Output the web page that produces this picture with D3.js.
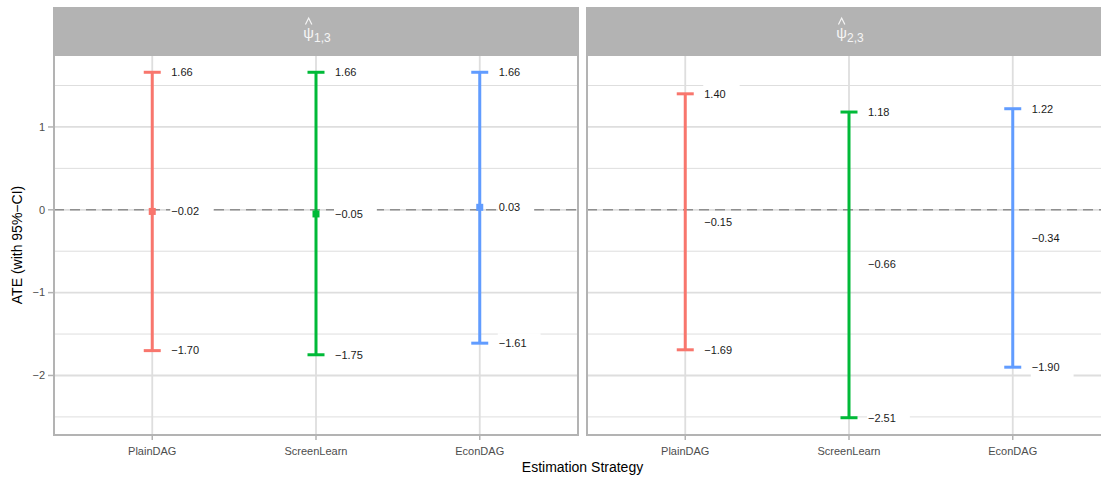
<!DOCTYPE html>
<html>
<head>
<meta charset="utf-8">
<script src="https://cdn.jsdelivr.net/npm/d3@7"></script>
<style>
  html, body { margin: 0; padding: 0; background: #fff; }
  svg { display: block; font-family: "Liberation Sans", Arial, sans-serif; }
</style>
</head>
<body>
<svg id="chart" width="1101" height="479"></svg>
<script>
// Estimation strategies (x categories) and facet panels
const strategies = ["PlainDAG", "ScreenLearn", "EconDAG"];
const panelSubscripts = ["1,3", "2,3"];
const strategyColors = ["#F8766D", "#00BA38", "#619CFF"];

// ATE point estimates and 95% confidence limits, panel psi-hat 1,3
const estimate13 = [-0.02, -0.05, 0.03];
const lower13 = [-1.70, -1.75, -1.61];
const upper13 = [1.66, 1.66, 1.66];

// ATE point estimates and 95% confidence limits, panel psi-hat 2,3
const estimate23 = [-0.15, -0.66, -0.34];
const lower23 = [-1.69, -2.51, -1.90];
const upper23 = [1.40, 1.18, 1.22];

// Axis ticks
const yMajorTicks = [-2, -1, 0, 1];
const yMinorTicks = [-2.5, -1.5, -0.5, 0.5, 1.5];

const panels = [
  { sub: panelSubscripts[0], est: estimate13, lo: lower13, hi: upper13, markers: true },
  { sub: panelSubscripts[1], est: estimate23, lo: lower23, hi: upper23, markers: false }
];

const svg = d3.select("#chart");
const W = 1101, H = 479;
const panelW = 524, gap = 9;
const panelX0 = [54, 54 + panelW + gap];
const stripTop = 7, panelTop = 55, panelBottom = 435;

// Shared y scale with 5% padding on the data range
const allVals = [...lower13, ...upper13, ...lower23, ...upper23];
const yMin = d3.min(allVals), yMax = d3.max(allVals);
const pad = (yMax - yMin) * 0.05;
const y = d3.scaleLinear().domain([yMin - pad, yMax + pad]).range([panelBottom, panelTop]);

const fmt = d3.format(".2f");
const gridCol = "#dedede";
const borderCol = "#b3b3b3";
const stripTextCol = "#f5f5f5";

svg.append("defs").append("clipPath").attr("id", "page")
  .append("rect").attr("x", 0).attr("y", 0).attr("width", W).attr("height", H);

panels.forEach((p, pi) => {
  const x0 = panelX0[pi];
  const x = d3.scalePoint().domain(strategies).range([x0, x0 + panelW]).padding(0.6);
  const g = svg.append("g").attr("clip-path", "url(#page)");

  // grid
  g.selectAll(".minor").data(yMinorTicks).join("line")
    .attr("x1", x0).attr("x2", x0 + panelW)
    .attr("y1", d => y(d)).attr("y2", d => y(d))
    .attr("stroke", gridCol).attr("stroke-width", 1);
  g.selectAll(".major").data(yMajorTicks).join("line")
    .attr("x1", x0).attr("x2", x0 + panelW)
    .attr("y1", d => y(d)).attr("y2", d => y(d))
    .attr("stroke", gridCol).attr("stroke-width", 1.8);
  g.selectAll(".vmajor").data(strategies).join("line")
    .attr("x1", d => x(d)).attr("x2", d => x(d))
    .attr("y1", panelTop).attr("y2", panelBottom)
    .attr("stroke", gridCol).attr("stroke-width", 1.8);

  // reference line at zero
  g.append("line")
    .attr("x1", x0).attr("x2", x0 + panelW)
    .attr("y1", y(0)).attr("y2", y(0))
    .attr("stroke", "#8f8f8f").attr("stroke-width", 1.6)
    .attr("stroke-dasharray", "10,6");

  const rows = strategies.map((s, i) => ({
    s, c: strategyColors[i], est: p.est[i], lo: p.lo[i], hi: p.hi[i]
  }));

  // error bars
  const capHalf = 8.5;
  rows.forEach(r => {
    const cx = x(r.s);
    g.append("line").attr("x1", cx).attr("x2", cx)
      .attr("y1", y(r.hi)).attr("y2", y(r.lo))
      .attr("stroke", r.c).attr("stroke-width", 3);
    [r.hi, r.lo].forEach(v => {
      g.append("line").attr("x1", cx - capHalf).attr("x2", cx + capHalf)
        .attr("y1", y(v)).attr("y2", y(v))
        .attr("stroke", r.c).attr("stroke-width", 3);
    });
    if (p.markers) {
      g.append("rect").attr("x", cx - 3.5).attr("y", y(r.est) - 3.5)
        .attr("width", 7).attr("height", 7).attr("fill", r.c);
    }
  });

  // value labels on white boxes
  rows.forEach(r => {
    const cx = x(r.s);
    [r.hi, r.est, r.lo].forEach(v => {
      const lg = g.append("g");
      const t = lg.append("text")
        .attr("x", cx + 19).attr("y", y(v)).attr("dy", "0.35em")
        .attr("font-size", 11).attr("fill", "#1a1a1a")
        .text(fmt(v));
      const bb = t.node().getBBox();
      lg.insert("rect", "text")
        .attr("x", bb.x - 1).attr("y", y(v) - 10)
        .attr("width", bb.width + 15).attr("height", 20)
        .attr("fill", "#fff");
    });
  });

  // panel border
  g.append("rect").attr("x", x0).attr("y", panelTop)
    .attr("width", panelW).attr("height", panelBottom - panelTop)
    .attr("fill", "none").attr("stroke", borderCol).attr("stroke-width", 2);

  // strip with psi-hat label
  g.append("rect").attr("x", x0 - 1).attr("y", stripTop)
    .attr("width", panelW + 2).attr("height", panelTop - stripTop)
    .attr("fill", borderCol);
  const cxStrip = x0 + panelW / 2 + 1;
  const st = g.append("text").attr("x", cxStrip).attr("y", 38)
    .attr("text-anchor", "middle").attr("fill", stripTextCol);
  st.append("tspan").attr("font-size", 15).text("ψ");
  st.append("tspan").attr("font-size", 12).attr("dy", 4).text(p.sub);
  const psiBox = st.node().getExtentOfChar(0);
  const hx = psiBox.x + psiBox.width / 2;
  g.append("path")
    .attr("d", `M${hx - 3.2},24.5L${hx},18L${hx + 3.2},24.5`)
    .attr("fill", "none").attr("stroke", stripTextCol).attr("stroke-width", 1.2);

  // x axis ticks and labels
  const xa = g.append("g");
  xa.selectAll("line").data(strategies).join("line")
    .attr("x1", d => x(d)).attr("x2", d => x(d))
    .attr("y1", panelBottom + 1).attr("y2", panelBottom + 5)
    .attr("stroke", borderCol).attr("stroke-width", 1.5);
  xa.selectAll("text").data(strategies).join("text")
    .attr("x", d => x(d)).attr("y", panelBottom + 20)
    .attr("text-anchor", "middle").attr("font-size", 11).attr("fill", "#4d4d4d")
    .text(d => d);
});

// y axis on the left panel
const ya = svg.append("g");
ya.selectAll("line").data(yMajorTicks).join("line")
  .attr("x1", 48).attr("x2", 53)
  .attr("y1", d => y(d)).attr("y2", d => y(d))
  .attr("stroke", borderCol).attr("stroke-width", 1.5);
ya.selectAll("text").data(yMajorTicks).join("text")
  .attr("x", 45).attr("y", d => y(d)).attr("dy", "0.35em")
  .attr("text-anchor", "end").attr("font-size", 11).attr("fill", "#4d4d4d")
  .text(d => d3.format("d")(d));

// axis titles
svg.append("text")
  .attr("transform", `translate(22,${(panelTop + panelBottom) / 2}) rotate(-90)`)
  .attr("text-anchor", "middle").attr("font-size", 14).attr("fill", "#000")
  .text("ATE (with 95%\u2212CI)");
svg.append("text")
  .attr("x", (panelX0[0] + panelX0[1] + panelW) / 2).attr("y", 472)
  .attr("text-anchor", "middle").attr("font-size", 14).attr("fill", "#000")
  .text("Estimation Strategy");
</script>
</body>
</html>
